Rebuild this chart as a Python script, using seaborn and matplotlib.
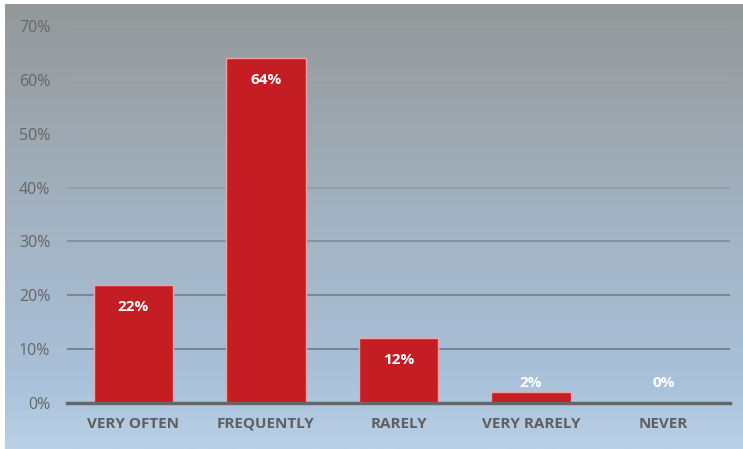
import numpy as np
import pandas as pd
import matplotlib
matplotlib.use("Agg")
import matplotlib.pyplot as plt
from matplotlib.colors import LinearSegmentedColormap
import seaborn as sns

categories = ["VERY OFTEN", "FREQUENTLY", "RARELY", "VERY RARELY", "NEVER"]
values = [22, 64, 12, 2, 0]
y_ticks = [0, 10, 20, 30, 40, 50, 60, 70]

df = pd.DataFrame({"category": categories, "value": values})

sns.set_theme(style="white")
plt.rcParams["font.family"] = ["Open Sans", "DejaVu Sans"]

W, H = 743, 449
fig = plt.figure(figsize=(W / 100, H / 100), dpi=100)
fig.patch.set_facecolor("white")

# gradient backdrop: grey at the top fading to pale blue at the bottom
bg = fig.add_axes([5 / W, 0, 1 - 5 / W, 1 - 4 / H])
bg.set_axis_off()
cmap = LinearSegmentedColormap.from_list(
    "bg", [(0.0, "#949899"), (0.45, "#a2b1c0"), (0.85, "#a9c1da"), (1.0, "#b9d0e6")])
grad = np.linspace(0, 1, 256).reshape(-1, 1)
bg.imshow(grad, aspect="auto", cmap=cmap, extent=[0, 1, 0, 1], origin="upper")
bg.set_zorder(0)

ax = fig.add_axes([67 / W, 1 - 403 / H, (730 - 67) / W, (403 - 26) / H])
ax.set_zorder(1)
ax.patch.set_alpha(0)

sns.barplot(data=df, x="category", y="value", color="#c41e24", width=0.6,
            saturation=1, edgecolor="#eea4a4", linewidth=1, ax=ax, zorder=3)

ax.set_ylim(0, 70)
ax.set_yticks(y_ticks)
ax.set_yticklabels([f"{t}%" for t in y_ticks], color="#666666", fontsize=11.5)
ax.set_xlim(-0.5, len(categories) - 0.5)
ax.set_xlabel("")
ax.set_ylabel("")
for lbl in ax.get_xticklabels():
    lbl.set_fontweight("bold")
    lbl.set_color("#5f5f5f")
    lbl.set_fontsize(11)
ax.tick_params(axis="both", length=0)
ax.tick_params(axis="y", pad=12)
ax.tick_params(axis="x", pad=10)

# gridlines fade out toward the grey top of the panel
grid_colors = {10: "#6b7988", 20: "#6f7d8c", 30: "#808c99", 40: "#939ca5",
               50: "#9ca4aa", 60: "#a2a6a7", 70: "#9fa3a4"}
for t, c in grid_colors.items():
    ax.axhline(t, color=c, linewidth=1.2, zorder=1)
for s in ["top", "right", "left"]:
    ax.spines[s].set_visible(False)
ax.spines["bottom"].set_color("#666666")
ax.spines["bottom"].set_linewidth(2.5)
ax.spines["bottom"].set_zorder(4)

# value labels sit just inside the bar top, or above short bars
for i, v in enumerate(values):
    y = max(v - 4.1, 3.7)
    ax.text(i, y, f"{v}%", ha="center", va="center", color="white",
            fontweight="bold", fontsize=11, zorder=5)

fig.savefig("out.png", dpi=100)
